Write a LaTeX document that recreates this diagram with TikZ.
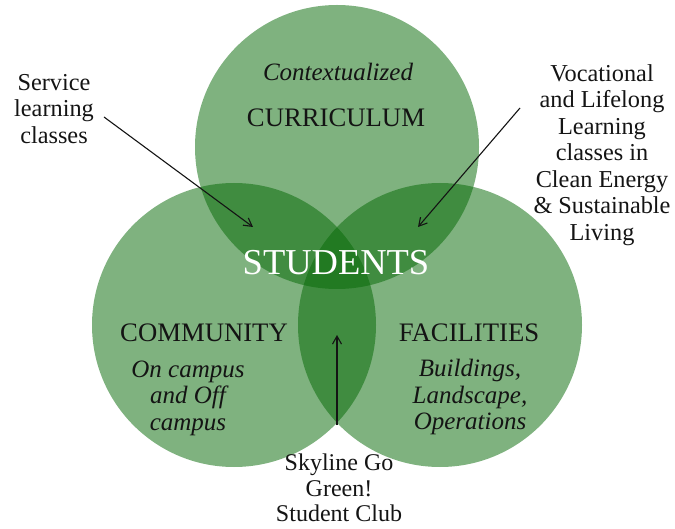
\documentclass[tikz,border=0pt]{standalone}
\usepackage{fontspec}
\setmainfont{Liberation Serif}
\usetikzlibrary{arrows.meta}
\definecolor{vgreen}{RGB}{4,104,4}
\definecolor{ink}{RGB}{20,20,20}
\tikzset{
  venn/.style={fill=vgreen,fill opacity=0.51,draw=none},
  title/.style={text=ink,font=\fontsize{26.7}{28}\selectfont,inner sep=0pt},
  sub/.style={text=ink,font=\fontsize{25}{26.5}\selectfont\itshape,align=center,inner sep=0pt},
  note/.style={text=ink,font=\fontsize{24.3}{26.5}\selectfont,align=center,inner sep=0pt},
  pointer/.style={draw=ink,line width=1.1pt,-{Straight Barb[length=8pt,width=9pt,line width=1.1pt]}}
}
\begin{document}
\begin{tikzpicture}[x=1pt,y=-1pt]
\useasboundingbox (0,0) rectangle (675,529);
\fill[venn] (337,147) circle[radius=142];
\fill[venn] (234,325) circle[radius=142];
\fill[venn] (440,325) circle[radius=142];

\node[sub] (ctx) at (338,72) {Contextualized};
\node[title] (cur) at (336,118) {CURRICULUM};
\node[text=white,font=\fontsize{36.5}{38}\selectfont,inner sep=0pt] (stu) at (336,263) {STUDENTS};
\node[title] (com) at (204,333) {COMMUNITY};
\node[sub] (comsub) at (188,398) {On campus\\and Off\\campus};
\node[title] (fac) at (469,333) {FACILITIES};
\node[sub] (facsub) at (470,397) {Buildings,\\Landscape,\\Operations};

\node[note] (serv) at (54,109) {Service\\learning\\classes};
\node[note] (voc) at (602,155) {Vocational\\and Lifelong\\Learning\\classes in\\Clean Energy\\\& Sustainable\\Living};
\node[note,font=\fontsize{24}{25.5}\selectfont] (club) at (339,488) {Skyline Go\\Green!\\Student Club};

\coordinate (s1) at (104,117);
\coordinate (s2) at (253,227);
\coordinate (v1) at (520,108);
\coordinate (v2) at (418,227);
\coordinate (k1) at (337,425);
\coordinate (k2) at (337,335);
\draw[pointer] (s1) -- (s2);
\draw[pointer] (v1) -- (v2);
\draw[pointer] (k1) -- (k2);
\end{tikzpicture}
\end{document}
